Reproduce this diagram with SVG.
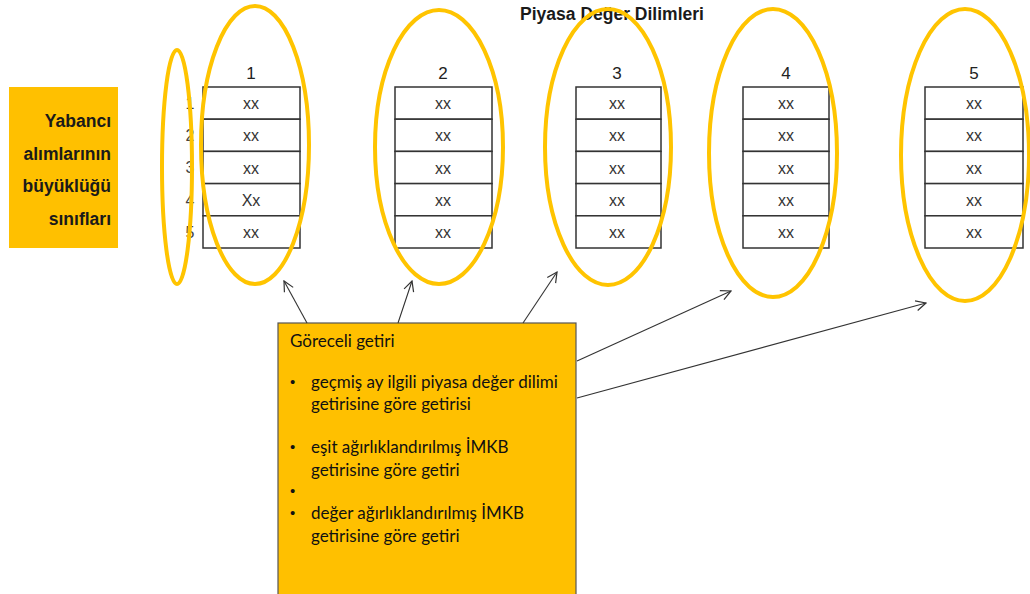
<svg xmlns="http://www.w3.org/2000/svg" width="1030" height="594" viewBox="0 0 1030 594">
  <defs>
    <marker id="open-arrow" viewBox="0 0 12 12" refX="11" refY="6" markerWidth="12" markerHeight="12" markerUnits="userSpaceOnUse" orient="auto">
      <path d="M1,1 L11,6 L1,11" fill="none" stroke="#333" stroke-width="1.2"/>
    </marker>
  </defs>
  <style>
    .cell { fill: #fff; stroke: #333; stroke-width: 1.5; }
    .val { font-family: "Liberation Sans", Arial, sans-serif; font-size: 16px; fill: #333; text-anchor: middle; }
    .hdr { font-family: "Liberation Sans", Arial, sans-serif; font-size: 17px; fill: #222; text-anchor: middle; }
    .rownum { font-family: "Liberation Sans", Arial, sans-serif; font-size: 16px; fill: #444; text-anchor: middle; }
    .ring { fill: none; stroke: #FFC400; stroke-width: 4; }
    .panel { fill: #FFC000; }
    .side { font-family: "Liberation Sans", Arial, sans-serif; font-size: 17.5px; font-weight: bold; fill: #1a1a1a; text-anchor: end; }
    .title { font-family: "Liberation Sans", Arial, sans-serif; font-size: 17.5px; font-weight: bold; fill: #1a1a1a; text-anchor: middle; }
    .body { font-family: Lato, "Open Sans", sans-serif; font-size: 17px; fill: #111; }
    .dot { font-family: "Liberation Sans", Arial, sans-serif; font-size: 15px; fill: #111; }
    .link { fill: none; stroke: #333; stroke-width: 1.1; marker-end: url(#open-arrow); }
  </style>
  <rect width="1030" height="594" fill="#fff"/>

  <!-- heading -->
  <text id="title" class="title" x="612" y="20">Piyasa Değer Dilimleri</text>

  <!-- size class label -->
  <g id="size-classes">
    <rect class="panel" x="9" y="87" width="109" height="161"/>
    <text class="side" x="111" y="127">Yabancı</text>
    <text class="side" x="111" y="160">alımlarının</text>
    <text class="side" x="111" y="192">büyüklüğü</text>
    <text class="side" x="111" y="225">sınıfları</text>
  </g>

  <!-- row numbers -->
  <g id="row-numbers">
    <text class="rownum" x="190" y="109">1</text>
    <text class="rownum" x="190" y="141">2</text>
    <text class="rownum" x="190" y="173">3</text>
    <text class="rownum" x="190" y="206">4</text>
    <text class="rownum" x="190" y="238">5</text>
  </g>

  <!-- value slice 1 -->
  <g id="slice-1">
    <text class="hdr" x="251" y="79">1</text>
    <rect class="cell" x="203" y="87" width="97" height="32.2"/>
    <rect class="cell" x="203" y="119.2" width="97" height="32.2"/>
    <rect class="cell" x="203" y="151.4" width="97" height="32.2"/>
    <rect class="cell" x="203" y="183.6" width="97" height="32.2"/>
    <rect class="cell" x="203" y="215.8" width="97" height="32.2"/>
    <text class="val" x="251" y="109">xx</text>
    <text class="val" x="251" y="141">xx</text>
    <text class="val" x="251" y="174">xx</text>
    <text class="val" x="251" y="206">Xx</text>
    <text class="val" x="251" y="238">xx</text>
  </g>

  <!-- value slice 2 -->
  <g id="slice-2">
    <text class="hdr" x="443" y="79">2</text>
    <rect class="cell" x="395" y="87" width="97" height="32.2"/>
    <rect class="cell" x="395" y="119.2" width="97" height="32.2"/>
    <rect class="cell" x="395" y="151.4" width="97" height="32.2"/>
    <rect class="cell" x="395" y="183.6" width="97" height="32.2"/>
    <rect class="cell" x="395" y="215.8" width="97" height="32.2"/>
    <text class="val" x="443" y="109">xx</text>
    <text class="val" x="443" y="141">xx</text>
    <text class="val" x="443" y="174">xx</text>
    <text class="val" x="443" y="206">xx</text>
    <text class="val" x="443" y="238">xx</text>
  </g>

  <!-- value slice 3 -->
  <g id="slice-3">
    <text class="hdr" x="617" y="79">3</text>
    <rect class="cell" x="576" y="87" width="85" height="32.2"/>
    <rect class="cell" x="576" y="119.2" width="85" height="32.2"/>
    <rect class="cell" x="576" y="151.4" width="85" height="32.2"/>
    <rect class="cell" x="576" y="183.6" width="85" height="32.2"/>
    <rect class="cell" x="576" y="215.8" width="85" height="32.2"/>
    <text class="val" x="617" y="109">xx</text>
    <text class="val" x="617" y="141">xx</text>
    <text class="val" x="617" y="174">xx</text>
    <text class="val" x="617" y="206">xx</text>
    <text class="val" x="617" y="238">xx</text>
  </g>

  <!-- value slice 4 -->
  <g id="slice-4">
    <text class="hdr" x="786" y="79">4</text>
    <rect class="cell" x="743" y="87" width="86" height="32.2"/>
    <rect class="cell" x="743" y="119.2" width="86" height="32.2"/>
    <rect class="cell" x="743" y="151.4" width="86" height="32.2"/>
    <rect class="cell" x="743" y="183.6" width="86" height="32.2"/>
    <rect class="cell" x="743" y="215.8" width="86" height="32.2"/>
    <text class="val" x="786" y="109">xx</text>
    <text class="val" x="786" y="141">xx</text>
    <text class="val" x="786" y="174">xx</text>
    <text class="val" x="786" y="206">xx</text>
    <text class="val" x="786" y="238">xx</text>
  </g>

  <!-- value slice 5 -->
  <g id="slice-5">
    <text class="hdr" x="974" y="79">5</text>
    <rect class="cell" x="925" y="87" width="98" height="32.2"/>
    <rect class="cell" x="925" y="119.2" width="98" height="32.2"/>
    <rect class="cell" x="925" y="151.4" width="98" height="32.2"/>
    <rect class="cell" x="925" y="183.6" width="98" height="32.2"/>
    <rect class="cell" x="925" y="215.8" width="98" height="32.2"/>
    <text class="val" x="974" y="109">xx</text>
    <text class="val" x="974" y="141">xx</text>
    <text class="val" x="974" y="174">xx</text>
    <text class="val" x="974" y="206">xx</text>
    <text class="val" x="974" y="238">xx</text>
  </g>

  <!-- highlight rings -->
  <g id="rings">
    <ellipse class="ring" cx="177" cy="167" rx="15" ry="117"/>
    <ellipse class="ring" cx="255" cy="145" rx="54" ry="139"/>
    <ellipse class="ring" cx="439" cy="147" rx="64" ry="137"/>
    <ellipse class="ring" cx="608" cy="147" rx="63" ry="138"/>
    <ellipse class="ring" cx="773" cy="153" rx="64" ry="144"/>
    <ellipse class="ring" cx="965" cy="155" rx="64" ry="146"/>
  </g>

  <!-- relative return note -->
  <g id="relative-return">
    <rect x="278" y="323" width="298" height="280" fill="#FFC000" stroke="#555" stroke-width="1.2"/>
    <text class="body" x="290" y="347">Göreceli getiri</text>
    <text class="dot" x="290" y="387">•</text>
    <text class="body" x="311" y="388">geçmiş ay ilgili piyasa değer dilimi</text>
    <text class="body" x="311" y="410">getirisine göre getirisi</text>
    <text class="dot" x="290" y="452">•</text>
    <text class="body" x="311" y="453">eşit ağırlıklandırılmış İMKB</text>
    <text class="body" x="311" y="476">getirisine göre getiri</text>
    <text class="dot" x="290" y="496">•</text>
    <text class="dot" x="290" y="518">•</text>
    <text class="body" x="311" y="519">değer ağırlıklandırılmış İMKB</text>
    <text class="body" x="311" y="542">getirisine göre getiri</text>
  </g>

  <!-- connectors -->
  <g id="connectors">
    <line class="link" x1="307" y1="323" x2="284" y2="281"/>
    <line class="link" x1="398" y1="323" x2="412" y2="281"/>
    <line class="link" x1="523" y1="323" x2="557" y2="272"/>
    <line class="link" x1="577" y1="361" x2="731" y2="291"/>
    <line class="link" x1="577" y1="398" x2="926" y2="303"/>
  </g>
</svg>
